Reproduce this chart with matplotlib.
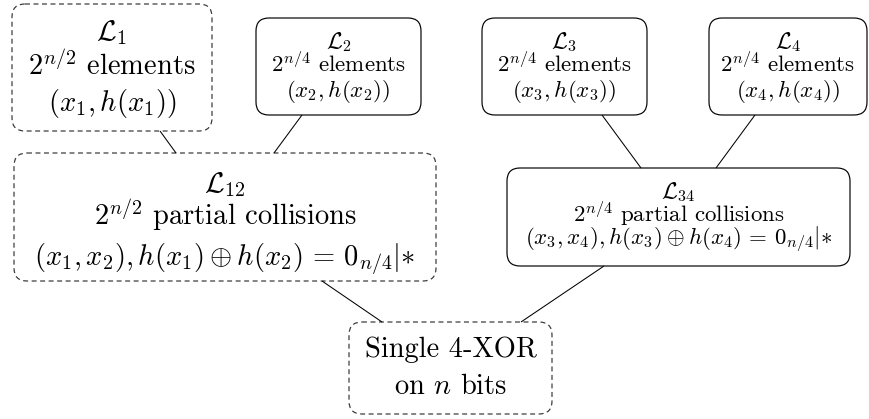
import matplotlib
matplotlib.use('Agg')
import matplotlib.pyplot as plt
from matplotlib.patches import FancyBboxPatch

plt.rcParams['mathtext.fontset'] = 'cm'
plt.rcParams['font.family'] = ['cmr10', 'DejaVu Serif']
plt.rcParams['axes.unicode_minus'] = False

# node boxes in pixel units: left, top, right, bottom
names = ['L1', 'L2', 'L3', 'L4', 'L12', 'L34', 'final']
boxes = {
    'L1': (12, 4, 212, 131),
    'L2': (256, 18, 421, 115),
    'L3': (482, 18, 647, 115),
    'L4': (709, 18, 867, 115),
    'L12': (14, 153, 436, 281),
    'L34': (507, 168, 850, 266),
    'final': (349, 322, 552, 414),
}
dashed = {'L1': True, 'L2': False, 'L3': False, 'L4': False,
          'L12': True, 'L34': False, 'final': True}
big = {'L1': True, 'L2': False, 'L3': False, 'L4': False,
       'L12': True, 'L34': False, 'final': True}

labels = {
    'L1': [r'$\mathcal{L}_1$', r'$2^{n/2}$ elements', r'$(x_1, h(x_1))$'],
    'L2': [r'$\mathcal{L}_2$', r'$2^{n/4}$ elements', r'$(x_2, h(x_2))$'],
    'L3': [r'$\mathcal{L}_3$', r'$2^{n/4}$ elements', r'$(x_3, h(x_3))$'],
    'L4': [r'$\mathcal{L}_4$', r'$2^{n/4}$ elements', r'$(x_4, h(x_4))$'],
    'L12': [r'$\mathcal{L}_{12}$', r'$2^{n/2}$ partial collisions',
            r'$(x_1, x_2), h(x_1) \oplus h(x_2)\,=\,0_{n/4}|{*}$'],
    'L34': [r'$\mathcal{L}_{34}$', r'$2^{n/4}$ partial collisions',
            r'$(x_3, x_4), h(x_3) \oplus h(x_4)\,=\,0_{n/4}|{*}$'],
    'final': ['Single 4-XOR', r'on $n$ bits'],
}
# text baselines (pixels from top)
baselines = {
    'L1': [40, 75, 111],
    'L2': [48, 72, 97],
    'L3': [48, 72, 97],
    'L4': [48, 72, 97],
    'L12': [192, 225, 265],
    'L34': [198, 222, 244],
    'final': [357, 394],
}

# edges: child, parent, x on child's bottom, x on parent's top
edges = [
    ('L1', 'L12', 160, 176),
    ('L2', 'L12', 302, 274),
    ('L3', 'L34', 602, 641),
    ('L4', 'L34', 755, 716),
    ('L12', 'final', 322, 382),
    ('L34', 'final', 604, 521),
]

fig = plt.figure(figsize=(8.69, 4.19), dpi=100)
ax = fig.add_axes([0, 0, 1, 1])
ax.set_xlim(0, 869)
ax.set_ylim(419, 0)
ax.axis('off')

for child, parent, xc, xp in edges:
    ax.plot([xc, xp], [boxes[child][3], boxes[parent][1]], color='black', lw=0.75,
            solid_capstyle='butt')

for n in names:
    x0, y0, x1, y1 = boxes[n]
    if dashed[n]:
        ls = (0, (4.2, 3.0))
        col = '#333333'
    else:
        ls = '-'
        col = 'black'
    p = FancyBboxPatch((x0, y0), x1 - x0, y1 - y0,
                       boxstyle='round,pad=0,rounding_size=13',
                       facecolor='none', edgecolor=col, lw=0.85, linestyle=ls)
    ax.add_patch(p)
    fs = 20.5 if big[n] else 16.5
    cx = (x0 + x1) / 2
    for txt, yb in zip(labels[n], baselines[n]):
        ax.text(cx, yb, txt, ha='center', va='baseline', fontsize=fs, color='black')

fig.savefig('out.png', dpi=100)
